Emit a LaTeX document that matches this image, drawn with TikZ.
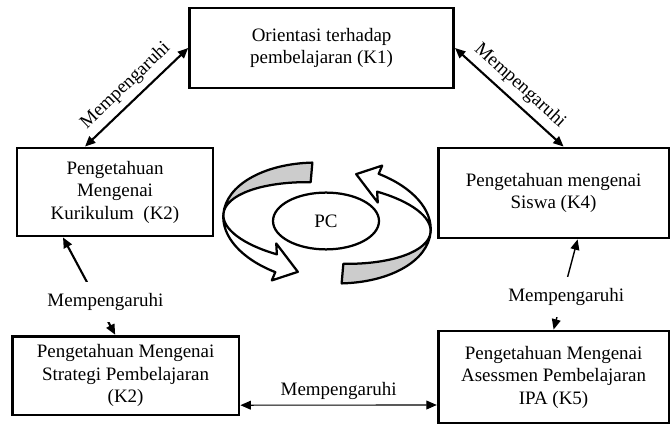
\documentclass[tikz,border=0pt]{standalone}
\usepackage{fontspec}
\setmainfont{Liberation Serif}
\usepackage{tikz}
\usetikzlibrary{positioning,shapes,shapes.geometric,arrows.meta}

\tikzset{
  box/.style={draw, shape=rectangle, line width=2pt, align=center, inner sep=2pt},
  link/.style={{Triangle[length=2.6mm,width=2.2mm]}-{Triangle[length=2.6mm,width=2.2mm]}},
  ring/.style={line width=1.6pt, line join=round},
  mid/.style={fill=white, inner xsep=1pt, inner ysep=0.28cm}
}

\begin{document}
\begin{tikzpicture}[font=\fontsize{13.5}{16}\selectfont]
\useasboundingbox (0,0) rectangle (16.8,10.65);

% rotating arrows round PC
\foreach \r in {-5,175}{
  \begin{scope}[shift={(8.175,5.075)}, rotate=\r]
    \draw[ring, fill=gray!40] (101:2.6 and 1.5)
      arc[start angle=101, end angle=180, x radius=2.6, y radius=1.5]
      arc[start angle=180, end angle=101, x radius=2.6, y radius=1] -- cycle;
    \draw[ring, fill=white] (-2.6,0)
      arc[start angle=180, end angle=243, x radius=2.6, y radius=1.5]
      -- (-1.25,-1.55) -- (-0.62,-1.28) -- (-1.22,-0.62) -- (-1.18,-0.89)
      arc[start angle=243, end angle=180, x radius=2.6, y radius=1] -- cycle;
  \end{scope}
}
\draw node (pc) at (8.15,5.125) [draw, ellipse, line width=1.6pt, fill=white,
  minimum width=2.65cm, minimum height=1.42cm]{PC};

\draw node (k1) at (8.04,9.45) [box, minimum width=6.6cm, minimum height=2cm]
  {Orientasi terhadap\\pembelajaran (K1)};
\draw node (k2) at (2.875,5.85) [box, minimum width=4.9cm, minimum height=2.2cm]
  {Pengetahuan\\Mengenai\\Kurikulum\enspace(K2)};
\draw node (k4) at (13.84,5.825) [box, minimum width=5.77cm, minimum height=2.25cm]
  {Pengetahuan mengenai\\Siswa (K4)};
\draw node (str) at (3.14,1.26) [box, minimum width=5.67cm, minimum height=1.97cm]
  {Pengetahuan Mengenai\\Strategi Pembelajaran\\(K2)};
\draw node (k5) at (13.84,1.225) [box, minimum width=5.77cm, minimum height=2.3cm]
  {Pengetahuan Mengenai\\Asessmen Pembelajaran\\IPA (K5)};

\draw[link, line width=1.5pt] ([xshift=-0.75cm]k2.north) -- (k1.west)
  node[midway, sloped, above, yshift=1pt]{Mempengaruhi};
\draw[link, line width=1.5pt] (k1.east) -- ([xshift=0.25cm]k4.north)
  node[midway, sloped, above, yshift=1pt]{Mempengaruhi};
\draw[link, line width=1.5pt] ([xshift=-0.26cm]str.north) -- ([xshift=-1.3cm]k2.south)
  node[pos=0.34, mid, xshift=0.2cm]{Mempengaruhi};
\draw[link, line width=1pt] (k5.north) -- ([xshift=0.6cm]k4.south)
  node[pos=0.36, mid, xshift=0.1cm]{Mempengaruhi};
\draw[link, line width=0.8pt] ([yshift=-0.74cm]str.east) -- ([yshift=-0.7cm]k5.west)
  node[midway, above]{Mempengaruhi};
\end{tikzpicture}
\end{document}
